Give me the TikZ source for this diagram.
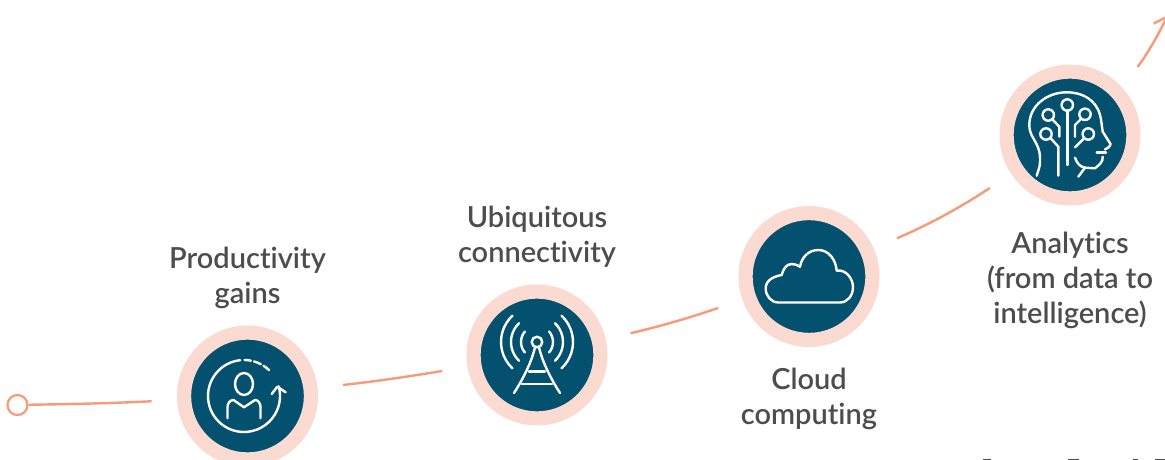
\documentclass[tikz,border=0pt]{standalone}
\usepackage{fontspec}
\setmainfont[Ligatures=CommonOff]{Lato Semibold}
\usetikzlibrary{positioning, arrows.meta}
\definecolor{salmon}{HTML}{F79A78}
\definecolor{ringpink}{HTML}{FBDAD2}
\definecolor{discblue}{HTML}{04506F}
\definecolor{labelgrey}{HTML}{4D4D4D}
\tikzset{
  ring/.style={circle,fill=discblue,draw=ringpink,line width=14.2pt,minimum size=126.8pt,inner sep=0pt},
  trend/.style={draw=salmon,line width=2.4pt,shorten <=25.5pt,shorten >=25.5pt},
  label/.style={text=labelgrey,align=center,inner sep=0pt,font=\fontsize{29}{35}\selectfont},
  icon/.style={draw=white,line width=2.4pt,line cap=round,line join=round},
}

\begin{document}
\begin{tikzpicture}[x=1pt,y=1pt]
\useasboundingbox (0,0) rectangle (1165,460);
\clip (0,0) rectangle (1165,460);

\node[circle,draw=salmon,fill=white,line width=2.2pt,minimum size=20pt,inner sep=0pt] (startdot) at (17.5,55) {};
\node[ring] (prodring) at (247.5,64) {};
\node[ring] (ubiqring) at (537,105) {};
\node[ring] (cloudring) at (809,183.5) {};
\node[ring] (aring) at (1070,325) {};
\coordinate (arrowend) at (1168,445);

\node[label,above=17pt of prodring] (prodlabel) {Productivity\\gains};
\node[label,above=17pt of ubiqring] (ubiqlabel) {Ubiquitous\\connectivity};
\node[label,below=20.5pt of cloudring] (cloudlabel) {Cloud\\computing};
\node[label,below=26.5pt of aring] (alabel) {Analytics\\(from data to\\intelligence)};

%the trend line
\draw[trend,shorten <=0pt] (startdot) to[bend right=1] (prodring);
\draw[trend] (prodring) to[bend right=1.5] (ubiqring);
\draw[trend] (ubiqring) to[bend right=3] (cloudring);
\draw[trend] (cloudring) to[bend right=5] (aring);
\draw[trend,shorten >=0pt,-{Straight Barb[length=12pt,width=18pt]}] (aring) to[bend right=7] (arrowend);

%person
\begin{scope}[shift={(prodring.center)}]
\draw[icon] (-3.5,12) ellipse[x radius=9,y radius=11];
\draw[icon] (-20,-22.3) -- (-20,-11.3) to[out=90,in=180] (-14,-4) -- (-3.5,-11.3) -- (7.5,-4) to[out=0,in=90] (13,-11.3) -- (13,-22.3);
\draw[icon,shift={(-3.5,0)}] (96:36) arc[start angle=96,end angle=375.6,radius=36];
\foreach \a/\b in {89/79,74/62,57/46}
  \draw[icon,shift={(-3.5,0)}] (\a:36) arc[start angle=\a,end angle=\b,radius=36];
\draw[icon] (24.2,2) -- (29.8,9.3) -- (38.2,3.7);
\end{scope}

%tower
\begin{scope}[shift={(ubiqring.center)}]
\draw[icon] (0,13) circle[radius=5.3];
\draw[icon] (-23,-38) .. controls (-12,-21) and (-5,-5) .. (-2,7.5);
\draw[icon] (23,-38) .. controls (12,-21) and (5,-5) .. (2,7.5);
\draw[icon] (-8,-16.7) -- (8,-16.7);
\draw[icon] (-15,-29) -- (15,-29);
\foreach \r/\a in {16/41,26/46,36/47}{
  \draw[icon,shift={(0,13)}] (180-\a:\r) arc[start angle=180-\a,end angle=180+\a,radius=\r];
  \draw[icon,shift={(0,13)}] (-\a:\r) arc[start angle=-\a,end angle=\a,radius=\r];
}
\end{scope}

%cloud
\begin{scope}[shift={(cloudring.center)}]
\draw[icon] (-30.7,-26) to[out=180,in=-90] (-43.3,-11.8) to[out=90,in=190] (-27.3,1.5)
  to[out=75,in=180] (-17.3,12.5) to[out=0,in=150] (-9,9.8) to[out=80,in=180] (9.3,26.5)
  to[out=0,in=95] (27.7,5.8) to[out=10,in=90] (44,-10.8) to[out=-90,in=0] (31,-26) -- cycle;
\end{scope}

%head
\begin{scope}[shift={(aring.center)}]
\draw[icon] (-33.3,-40.7) to[out=75,in=-90] (-30,-26.7) to[out=90,in=-70] (-31.7,-13.3)
  to[out=110,in=-90] (-40.7,10) to[out=90,in=180] (-3.3,42.7) to[out=0,in=105] (30,20)
  to[out=-75,in=100] (32.7,3.3) -- (40.7,-9.3) -- (39,-12) -- (35,-14.5);
\draw[icon] (26.7,-17.7) -- (36,-17.7);
\draw[icon] (32.7,-21.7) to[out=-85,in=40] (25,-33.3) -- (15,-32.7) to[out=170,in=-70] (5,-22.7);
\draw[icon] (15,-32.7) -- (8.3,-41.7);
\foreach \x/\y in {-2.7/30,-21.7/20,-24/1,15/20.7,18.3/1}
  \draw[icon] (\x,\y) circle[radius=5.7];
\draw[icon] (-2.7,24.3) -- (-2.7,-30);
\draw[icon] (-17.7,15.7) -- (-10.7,8.3) -- (-10.7,-1.7);
\draw[icon] (-19.3,-3.3) -- (-11.7,-11.7) -- (-11.7,-40.7);
\draw[icon] (11,16) -- (5,10) -- (5,-1.7);
\draw[icon] (14,-3.3) -- (5,-12.3);
\end{scope}

%tops of the cut off line
\foreach \a/\b in {983/991,1068/1079,1133/1138,1155/1165}
  \fill[labelgrey] (\a,0) rectangle (\b,1);
\end{tikzpicture}
\end{document}
